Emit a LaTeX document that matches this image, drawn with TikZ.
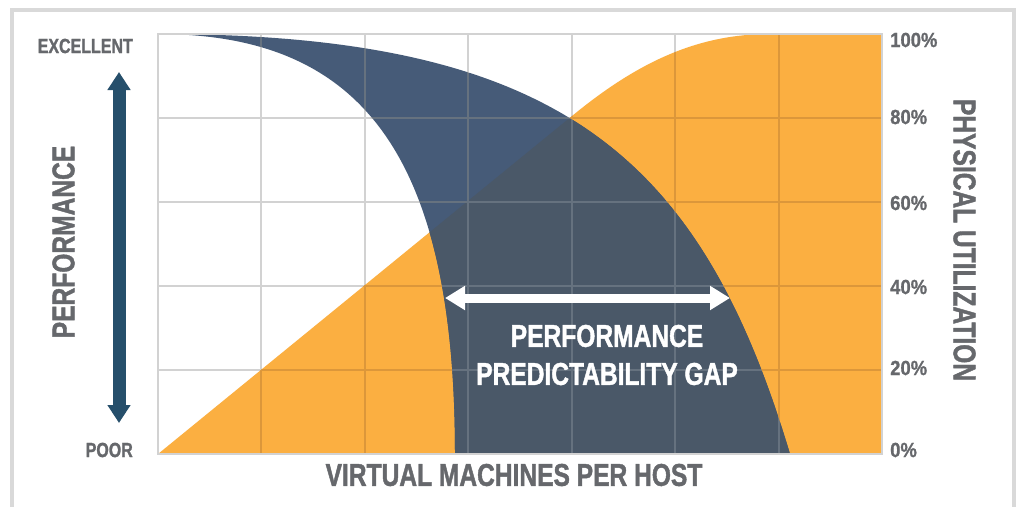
\documentclass[tikz,border=0pt]{standalone}
\usepackage{fontspec}
\newfontfamily\cf[FakeStretch=0.78, FakeBold=1.3]{Liberation Sans Bold}
\newfontfamily\cfn[FakeStretch=0.9, FakeBold=1.0]{Liberation Sans Bold}
\usetikzlibrary{arrows.meta}
\definecolor{cOrange}{HTML}{FBAF41}
\definecolor{cBlue}{HTML}{465B78}
\definecolor{cSlate}{HTML}{4A5868}
\definecolor{cText}{HTML}{66686C}
\definecolor{cArrow}{HTML}{264F6B}
\definecolor{cFrame}{HTML}{D9D9D9}
\definecolor{cGridW}{HTML}{D2D2D2}
\definecolor{cGridO}{HTML}{DC973A}
\definecolor{cGridD}{HTML}{66727F}
\begin{document}
\begin{tikzpicture}[x=1pt,y=-1pt,
  small/.style={font=\cf\fontsize{20.5}{20.5}\selectfont, text=cText, inner sep=0pt},
  pct/.style={font=\cfn\fontsize{20.5}{20.5}\selectfont, text=cText, inner sep=0pt, anchor=west},
  axis/.style={font=\cf\fontsize{31.5}{31.5}\selectfont, text=cText, inner sep=0pt},
  gaptext/.style={font=\cf\fontsize{31.5}{38}\selectfont, text=white, inner sep=0pt, align=center},
  gridline/.style={line width=2pt},
  bigarrow/.style={cArrow, line width=13pt, {Triangle[width=22pt,length=18pt]}-{Triangle[width=22pt,length=18pt]}},
  gaparrow/.style={white, line width=9pt, {Triangle[width=23pt,length=20pt]}-{Triangle[width=23pt,length=20pt]}}
]
\useasboundingbox (0,0) rectangle (1016,506);
\fill[white] (0,0) rectangle (1016,506);
\draw[cFrame, line width=4pt] (12,10) rectangle (1013.5,540);

\def\Opath{(158,454) -- (572,116) .. controls (640,60) and (700,34) .. (770,34) -- (882,34) -- (882,454) -- cycle}
\def\Dpath{(158,34) .. controls (558,34) and (700,154) .. (790,454) -- (455,454) .. controls (455,150) and (358,34) .. (158,34) -- cycle}
\def\gridlines{%
  \foreach \i in {1,...,6} \draw[gridline] (158+103.43*\i,34) -- (158+103.43*\i,454);
  \foreach \j in {1,...,4} \draw[gridline] (158,34+84*\j) -- (882,34+84*\j);
}

% regions
\fill[cOrange] \Opath;
\fill[cBlue] \Dpath;
\begin{scope}
  \clip \Opath;
  \fill[cSlate] \Dpath;
\end{scope}

% grid
\begin{scope}[cGridW]
  \gridlines
\end{scope}
\begin{scope}
  \clip \Opath;
  \begin{scope}[cGridO]
    \gridlines
  \end{scope}
\end{scope}
\begin{scope}
  \clip \Dpath;
  \begin{scope}[cGridD]
    \gridlines
  \end{scope}
\end{scope}
\draw[cGridW, line width=2pt] (158,34) rectangle (882,454);

% left labels
\node[small, anchor=east] (exc) at (133,46) {EXCELLENT};
\node[small, anchor=east] (poor) at (133,450) {POOR};
\node[axis, rotate=90] (perf) at (63.5,242) {PERFORMANCE};
\coordinate (atop) at (119,72);
\coordinate (abot) at (119,423);
\draw[bigarrow] (atop) -- (abot);

% right labels
\node[pct] (p100) at (890,40) {100\%};
\node[pct] (p80) at (890,117) {80\%};
\node[pct] (p60) at (890,203) {60\%};
\node[pct] (p40) at (890,287) {40\%};
\node[pct] (p20) at (890,368) {20\%};
\node[pct] (p0) at (890,450) {0\%};
\node[axis, rotate=-90] (phys) at (964.5,240) {PHYSICAL UTILIZATION};

% bottom label
\node[axis] (vm) at (514,475) {VIRTUAL MACHINES PER HOST};

% gap
\coordinate (gl) at (445,298);
\coordinate (gr) at (730,298);
\draw[gaparrow] (gl) -- (gr);
\node[gaptext] (gap) at (607,355) {PERFORMANCE\\PREDICTABILITY GAP};
\end{tikzpicture}
\end{document}
